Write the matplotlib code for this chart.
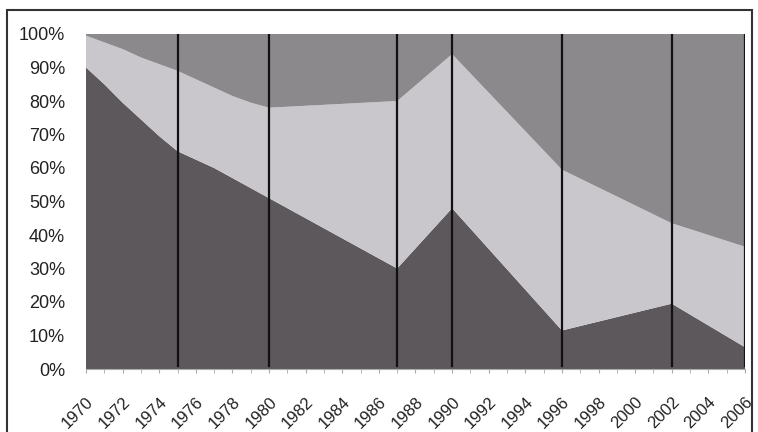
import matplotlib
matplotlib.use("Agg")
import matplotlib.pyplot as plt
import numpy as np
from matplotlib.patches import Rectangle

years = [1970, 1971, 1972, 1973, 1974, 1975, 1976, 1977, 1978, 1979, 1980,
         1987, 1990, 1996, 2002, 2006]
# share of the bottom (dark) band, in %
bottom_share = [90, 85, 79.5, 74.5, 69.5, 65, 62.5, 60, 57, 54, 51,
                30, 48, 11.5, 19.5, 6.5]
# cumulative top of the middle (light) band, in %
middle_top = [99.5, 97.5, 95.5, 93, 91, 89, 86.5, 84, 81.5, 79.5, 78,
              80, 94, 59.5, 43.5, 36.5]
# black vertical markers
marker_years = [1975, 1980, 1987, 1990, 1996, 2002, 2006]

tick_years = list(range(1970, 2007, 2))
pct_ticks = list(range(0, 101, 10))

plt.rcParams['font.family'] = ['Liberation Sans', 'DejaVu Sans']

bottom = np.array(bottom_share)
middle = np.array(middle_top) - bottom
top = 100 - np.array(middle_top)

fig = plt.figure(figsize=(7.58, 4.32), dpi=100)
fig.patch.set_facecolor('white')
ax = fig.add_axes([86/758, 1 - 369/432, (745-86)/758, (369-34)/432])

ax.stackplot(years, bottom, middle, top,
             colors=['#5c585c', '#c9c7cb', '#8c898d'], linewidth=0)

for yr in marker_years:
    ax.axvline(yr, ymin=0.01, ymax=1.0, color='#111111', lw=1.6)

ax.set_xlim(1970, 2006)
ax.set_ylim(0, 100)
ax.set_xticks(tick_years)
ax.set_xticks(range(1970, 2007), minor=True)
ax.set_xticklabels([str(y) for y in tick_years], rotation=45, ha='right',
                   rotation_mode='anchor', fontsize=12, color='#222222')
ax.set_yticks(pct_ticks)
ax.set_yticklabels([f"{p}%" for p in pct_ticks], fontsize=13, color='#222222')

ax.tick_params(axis='y', length=0, pad=15)
ax.tick_params(axis='x', which='both', direction='out', length=3,
               color='#aaaaaa', pad=15)

for side in ['top', 'right', 'left']:
    ax.spines[side].set_visible(False)
ax.spines['bottom'].set_color('#aaaaaa')

# outer frame of the scanned chart
fig.patches.append(Rectangle((7/758, -0.05), (752-7)/758, 1.05 - 10/432,
                             transform=fig.transFigure, fill=False,
                             edgecolor='#333333', lw=1.5))

fig.savefig("out.png", dpi=100)
